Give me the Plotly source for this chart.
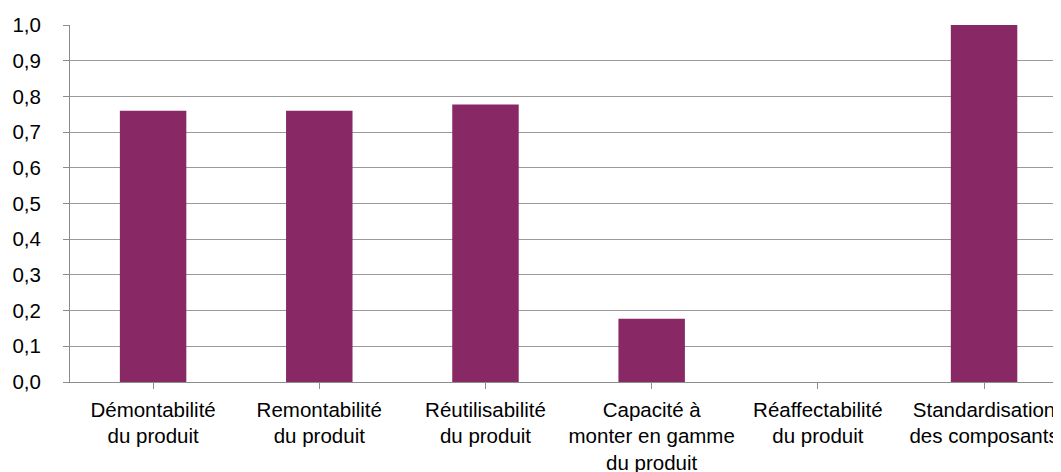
import plotly.graph_objects as go

categories = [
    "Démontabilité<br>du produit",
    "Remontabilité<br>du produit",
    "Réutilisabilité<br>du produit",
    "Capacité à<br>monter en gamme<br>du produit",
    "Réaffectabilité<br>du produit",
    "Standardisation<br>des composants",
]
values = [0.76, 0.76, 0.777, 0.177, 0.0, 1.0]
y_ticks = [0.0, 0.1, 0.2, 0.3, 0.4, 0.5, 0.6, 0.7, 0.8, 0.9, 1.0]

fig = go.Figure(go.Bar(
    x=list(range(len(categories))),
    y=values,
    marker=dict(color="#882865", line=dict(width=0)),
    width=0.4,
))

font = dict(family="Liberation Sans, Arial, sans-serif", size=20.5, color="#000000")

fig.update_layout(
    width=1061, height=472,
    margin=dict(l=62, r=8, t=17, b=98),
    paper_bgcolor="white", plot_bgcolor="white",
    separators=", ",
    font=font,
    showlegend=False,
)
fig.update_xaxes(
    tickmode="array", tickvals=list(range(len(categories))), ticktext=categories,
    range=[-0.5, 5.463], automargin=False,
    showline=True, linecolor="#8c8c8c", linewidth=1,
    ticks="outside", tickson="boundaries", ticklen=6, tickcolor="#8c8c8c",
    showgrid=False, zeroline=False, tickfont=font, ticklabelstandoff=3,
)
fig.update_yaxes(
    range=[0, 1.0], tickvals=y_ticks, tickformat=".1f", automargin=False,
    showline=True, linecolor="#8c8c8c", linewidth=1,
    ticks="outside", ticklen=6, tickcolor="#8c8c8c",
    showgrid=True, gridcolor="#9a9a9a", gridwidth=1,
    zeroline=False, tickfont=font, ticklabelstandoff=18,
)

fig.write_html("out.html")
